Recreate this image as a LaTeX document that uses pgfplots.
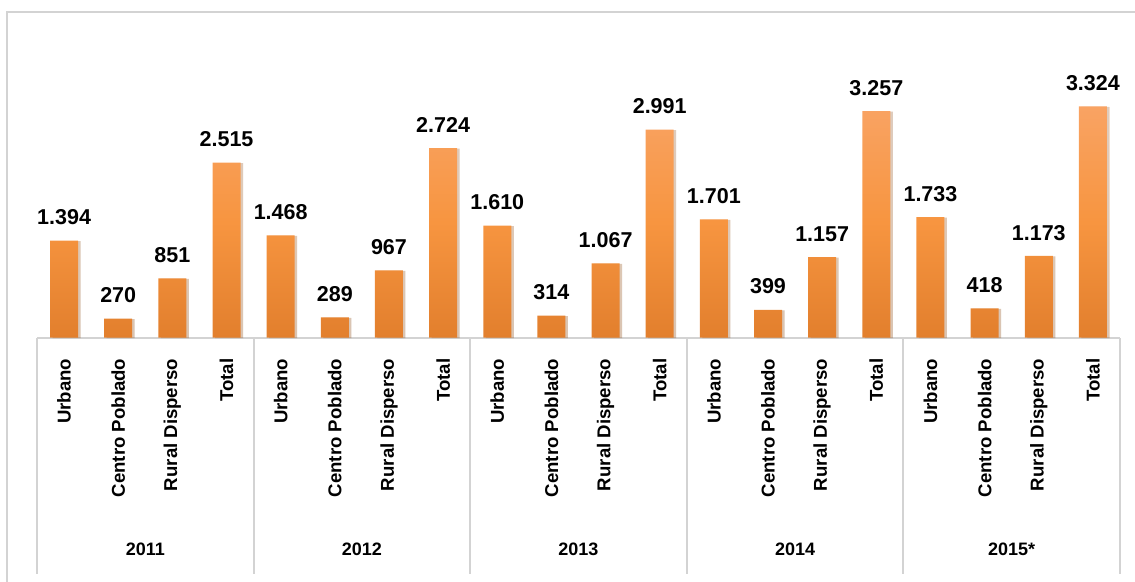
\documentclass[border=0pt]{standalone}
\usepackage{pgfplots}
\pgfplotsset{compat=1.18}
\usepackage{pgfplotstable}
\usepackage{fontspec}
\setmainfont{Liberation Sans}
\usetikzlibrary{shadows}
\definecolor{sepgray}{HTML}{D3D3D3}
\definecolor{barTop}{HTML}{F9A363}
\definecolor{barMid}{HTML}{F79540}
\definecolor{barBot}{HTML}{E27F2D}
\pgfplotstableread{
x y label
0 1394 1.394
1 270 270
2 851 851
3 2515 2.515
4 1468 1.468
5 289 289
6 967 967
7 2724 2.724
8 1610 1.610
9 314 314
10 1067 1.067
11 2991 2.991
12 1701 1.701
13 399 399
14 1157 1.157
15 3257 3.257
16 1733 1.733
17 418 418
18 1173 1.173
19 3324 3.324
}\datatable
\begin{document}
\begin{tikzpicture}
\useasboundingbox (0pt,0pt) rectangle (1135pt,581pt);
\draw[sepgray, line width=1.8pt] (7.3pt,-1pt) -- (7.3pt,569pt) -- (1136pt,569pt);
\begin{axis}[
  at={(37pt,243.5pt)}, anchor=south west,
  scale only axis, width=1083pt, height=278pt,
  xmin=-0.5, xmax=19.5, ymin=0, ymax=4000,
  axis y line=none,
  axis x line*=bottom,
  x axis line style={sepgray, line width=2pt},
  xtick={0,...,19},
  xticklabels={Urbano,Centro Poblado,Rural Disperso,Total,Urbano,Centro Poblado,Rural Disperso,Total,Urbano,Centro Poblado,Rural Disperso,Total,Urbano,Centro Poblado,Rural Disperso,Total,Urbano,Centro Poblado,Rural Disperso,Total},
  major tick length=0pt,
  xticklabel style={rotate=90, anchor=east, inner sep=0pt, font=\fontsize{18.6}{20}\selectfont\bfseries},
  xticklabel shift=21pt,
  extra x ticks={-0.5,3.5,7.5,11.5,15.5,19.5},
  extra x tick labels={},
  extra x tick style={major tick length=236pt, tick align=outside, tick style={sepgray, line width=2pt}},
  clip=false,
]
\addplot[ybar, bar width=28pt, bar shift=0pt, draw=none,
  top color=barTop, bottom color=barBot, middle color=barMid,
  drop shadow={shadow xshift=2.5pt, shadow yshift=-0.5pt, opacity=0.22, fill=black!70},
  nodes near coords, point meta=explicit symbolic,
  every node near coord/.style={text=black, fill=none, draw=none, inner sep=0pt, yshift=15.5pt, anchor=south, font=\fontsize{21.5}{24}\selectfont\bfseries}
] table[x=x, y=y, meta=label] {\datatable};
\node[anchor=base, yshift=-217.5pt, font=\fontsize{18}{20}\selectfont\bfseries] at (axis cs:1.5,0) {2011};
\node[anchor=base, yshift=-217.5pt, font=\fontsize{18}{20}\selectfont\bfseries] at (axis cs:5.5,0) {2012};
\node[anchor=base, yshift=-217.5pt, font=\fontsize{18}{20}\selectfont\bfseries] at (axis cs:9.5,0) {2013};
\node[anchor=base, yshift=-217.5pt, font=\fontsize{18}{20}\selectfont\bfseries] at (axis cs:13.5,0) {2014};
\node[anchor=base, yshift=-217.5pt, font=\fontsize{18}{20}\selectfont\bfseries] at (axis cs:17.5,0) {2015*};
\end{axis}
\end{tikzpicture}
\end{document}
